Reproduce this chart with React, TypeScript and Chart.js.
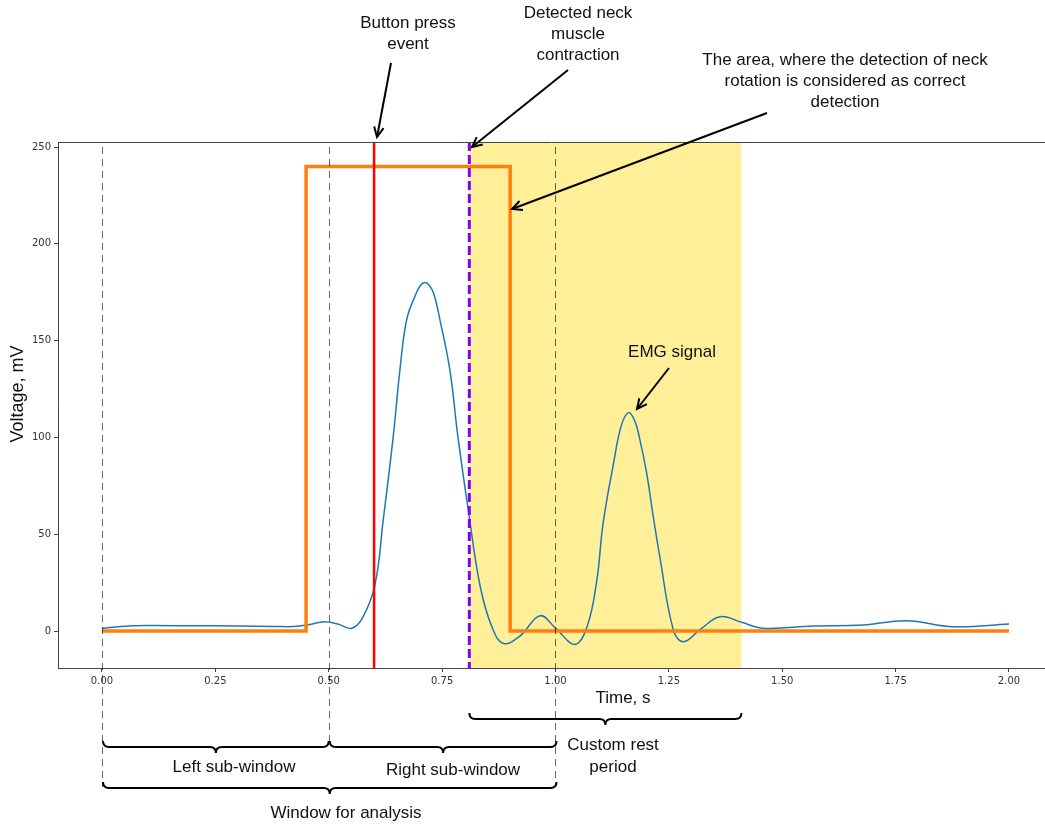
import { useEffect, useRef } from "react";
import { Chart, registerables } from "chart.js";

Chart.register(...registerables);

// Axis ticks
const xTicks = [0, 0.25, 0.5, 0.75, 1.0, 1.25, 1.5, 1.75, 2.0];
const yTicks = [0, 50, 100, 150, 200, 250];

// EMG signal (time in s, voltage in mV)
const emgTime = [
  0, 0.05, 0.1, 0.2, 0.3, 0.38, 0.42, 0.455, 0.49, 0.52, 0.551, 0.575, 0.602,
  0.62, 0.642, 0.657, 0.672, 0.692, 0.702, 0.712, 0.722, 0.732, 0.745, 0.767,
  0.785, 0.808, 0.834, 0.86, 0.885, 0.922, 0.966, 1.0, 1.043, 1.07, 1.091,
  1.105, 1.128, 1.145, 1.161, 1.175, 1.185, 1.201, 1.215, 1.23, 1.26, 1.282,
  1.32, 1.363, 1.41, 1.458, 1.568, 1.678, 1.774, 1.877, 2.0,
];
const emgVolt = [
  1.4, 2.5, 2.8, 2.7, 2.6, 2.4, 2.3, 3.2, 4.8, 3.6, 1.4, 7, 24, 57, 100, 135,
  161, 174, 178.5, 180, 178.5, 174, 161, 135, 100, 62, 23, 2, -6.4, -2.5, 7.9,
  1.5, -6.9, 2.5, 26, 55.6, 86.6, 106, 112.8, 108.4, 100, 81.5, 60, 38.4, 0.5,
  -5.5, 1, 7.4, 4.5, 1.4, 2.6, 3.1, 5.3, 2.2, 3.6,
];

// Button trigger signal
const triggerTime = [0, 0.45, 0.45, 0.9, 0.9, 2.0];
const triggerVolt = [0, 0, 240, 240, 0, 0];

// Event markers
const buttonPressTime = 0.6;
const detectionTime = 0.81;
const restPeriod = [0.81, 1.41];
const windowBounds = [0, 0.5, 1.0];

const TEXT_FONT = "17px 'Liberation Sans', Arial, sans-serif";

function drawArrow(ctx: CanvasRenderingContext2D, x0: number, y0: number, x1: number, y1: number) {
  const ang = Math.atan2(y1 - y0, x1 - x0);
  const head = 11;
  const spread = 0.45;
  ctx.beginPath();
  ctx.moveTo(x0, y0);
  ctx.lineTo(x1, y1);
  ctx.stroke();
  ctx.beginPath();
  ctx.moveTo(x1 - head * Math.cos(ang - spread), y1 - head * Math.sin(ang - spread));
  ctx.lineTo(x1, y1);
  ctx.lineTo(x1 - head * Math.cos(ang + spread), y1 - head * Math.sin(ang + spread));
  ctx.stroke();
}

function drawBrace(ctx: CanvasRenderingContext2D, x1: number, x2: number, y: number) {
  const xm = (x1 + x2) / 2;
  const r = 6;
  ctx.beginPath();
  ctx.moveTo(x1, y - r);
  ctx.quadraticCurveTo(x1, y, x1 + r, y);
  ctx.lineTo(xm - r, y);
  ctx.quadraticCurveTo(xm, y, xm, y + r);
  ctx.quadraticCurveTo(xm, y, xm + r, y);
  ctx.lineTo(x2 - r, y);
  ctx.quadraticCurveTo(x2, y, x2, y - r);
  ctx.stroke();
}

function drawLines(ctx: CanvasRenderingContext2D, lines: string[], cx: number, cy: number, step: number) {
  lines.forEach((t, i) => ctx.fillText(t, cx, cy + i * step));
}

const overlay = {
  id: "overlay",
  beforeDatasetsDraw(chart: any) {
    const { ctx, chartArea: a, scales } = chart;
    const x = scales.x;
    const x0 = x.getPixelForValue(restPeriod[0]);
    const x1 = x.getPixelForValue(restPeriod[1]);
    ctx.save();
    ctx.fillStyle = "rgba(255, 215, 0, 0.4)";
    ctx.fillRect(x0, a.top, x1 - x0, a.bottom - a.top);
    ctx.restore();
  },
  afterDatasetsDraw(chart: any) {
    const { ctx, chartArea: a, scales } = chart;
    const x = scales.x;
    ctx.save();
    // button press marker
    const xb = x.getPixelForValue(buttonPressTime);
    ctx.strokeStyle = "#ff0000";
    ctx.lineWidth = 2.5;
    ctx.beginPath();
    ctx.moveTo(xb, a.top);
    ctx.lineTo(xb, a.bottom);
    ctx.stroke();
    // detection marker
    const xd = x.getPixelForValue(detectionTime);
    ctx.strokeStyle = "#8000ff";
    ctx.lineWidth = 3;
    ctx.setLineDash([9, 4]);
    ctx.beginPath();
    ctx.moveTo(xd, a.top);
    ctx.lineTo(xd, a.bottom);
    ctx.stroke();
    ctx.restore();
  },
  afterDraw(chart: any) {
    const { ctx, chartArea: a, scales } = chart;
    const x = scales.x;
    const y = scales.y;
    ctx.save();

    // top spine
    ctx.strokeStyle = "#444";
    ctx.lineWidth = 1;
    ctx.beginPath();
    ctx.moveTo(a.left, a.top + 0.5);
    ctx.lineTo(a.right, a.top + 0.5);
    ctx.stroke();

    // window boundaries (extend below the axis to the braces)
    const lineEnds = [787, 745, 787];
    ctx.strokeStyle = "rgba(0, 0, 0, 0.6)";
    ctx.lineWidth = 1;
    ctx.setLineDash([7, 5]);
    windowBounds.forEach((t, i) => {
      const px = Math.round(x.getPixelForValue(t)) + 0.5;
      ctx.beginPath();
      ctx.moveTo(px, y.getPixelForValue(250));
      ctx.lineTo(px, lineEnds[i]);
      ctx.stroke();
    });
    ctx.setLineDash([]);

    // braces
    ctx.strokeStyle = "#000";
    ctx.lineWidth = 2;
    const px = (t: number) => x.getPixelForValue(t);
    drawBrace(ctx, px(restPeriod[0]), px(restPeriod[1]), 719);
    drawBrace(ctx, px(windowBounds[0]) + 1, px(windowBounds[1]), 747);
    drawBrace(ctx, px(windowBounds[1]) + 1, px(windowBounds[2]) + 1, 747);
    drawBrace(ctx, px(windowBounds[0]) + 1, px(windowBounds[2]) + 1, 788);

    // arrows
    ctx.lineWidth = 2;
    drawArrow(ctx, 391, 63, 377, 137);
    drawArrow(ctx, 568, 70, 472, 147);
    drawArrow(ctx, 767, 113, 512, 209);
    drawArrow(ctx, 669, 368, 637, 409);

    // text
    ctx.fillStyle = "#111";
    ctx.font = TEXT_FONT;
    ctx.textAlign = "center";
    ctx.textBaseline = "middle";
    drawLines(ctx, ["Button press", "event"], 408, 23, 21);
    drawLines(ctx, ["Detected neck", "muscle", "contraction"], 578, 13, 21);
    drawLines(
      ctx,
      ["The area, where the detection of neck", "rotation is considered as correct", "detection"],
      845,
      60,
      21
    );
    ctx.fillText("EMG signal", 672, 352);
    ctx.fillText("Time, s", 623, 698);
    drawLines(ctx, ["Custom rest", "period"], 613, 745, 22);
    ctx.fillText("Left sub-window", 234, 767);
    ctx.fillText("Right sub-window", 453, 770);
    ctx.fillText("Window for analysis", 346, 813);

    ctx.font = "18px 'Liberation Sans', Arial, sans-serif";
    ctx.translate(18, 394);
    ctx.rotate(-Math.PI / 2);
    ctx.fillText("Voltage, mV", 0, 0);
    ctx.restore();
  },
};

export default function App() {
  const canvasRef = useRef<HTMLCanvasElement | null>(null);

  useEffect(() => {
    const canvas = canvasRef.current;
    if (!canvas) return;
    const chart = new Chart(canvas, {
      type: "line",
      data: {
        datasets: [
          {
            label: "Trigger",
            data: triggerTime.map((t, i) => ({ x: t, y: triggerVolt[i] })),
            borderColor: "#ff7f0e",
            borderWidth: 3.5,
            pointRadius: 0,
            tension: 0,
            order: 0,
          },
          {
            label: "EMG",
            data: emgTime.map((t, i) => ({ x: t, y: emgVolt[i] })),
            borderColor: "#1f77b4",
            borderWidth: 1.5,
            pointRadius: 0,
            tension: 0.4,
            order: 1,
          },
        ],
      },
      options: {
        responsive: false,
        animation: false,
        devicePixelRatio: 1,
        layout: { padding: { top: 142, left: 0, right: 0, bottom: 127 } },
        plugins: { legend: { display: false }, tooltip: { enabled: false } },
        scales: {
          x: {
            type: "linear",
            min: -0.097,
            max: 2.0794,
            afterBuildTicks: (s: any) => {
              s.ticks = xTicks.map((v) => ({ value: v }));
            },
            afterFit: (s: any) => {
              s.height = 30;
            },
            ticks: {
              callback: (v: any) => Number(v).toFixed(2),
              font: { family: "'DejaVu Sans'", size: 10 },
              color: "#333",
              padding: 3,
              maxRotation: 0,
              autoSkip: false,
            },
            grid: { drawOnChartArea: false, drawTicks: true, tickLength: 4, color: "#444" },
            border: { display: true, color: "#444", width: 1 },
          },
          y: {
            type: "linear",
            min: -19.1,
            max: 252.6,
            afterBuildTicks: (s: any) => {
              s.ticks = yTicks.map((v) => ({ value: v }));
            },
            afterFit: (s: any) => {
              s.width = 58;
            },
            ticks: {
              font: { family: "'DejaVu Sans'", size: 10 },
              color: "#333",
              padding: 3,
              autoSkip: false,
            },
            grid: { drawOnChartArea: false, drawTicks: true, tickLength: 4, color: "#444" },
            border: { display: true, color: "#444", width: 1 },
          },
        },
      },
      plugins: [overlay],
    });
    return () => chart.destroy();
  }, []);

  return (
    <div style={{ position: "fixed", left: 0, top: 0, width: 1045, height: 825, background: "#fff" }}>
      <canvas ref={canvasRef} width={1045} height={825} style={{ width: 1045, height: 825, display: "block" }} />
    </div>
  );
}
